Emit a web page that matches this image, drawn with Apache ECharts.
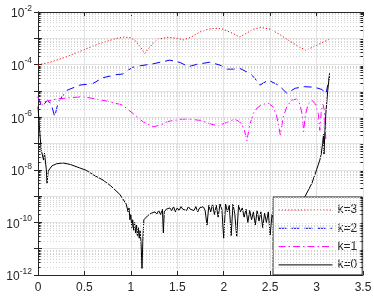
<!DOCTYPE html>
<html><head><meta charset="utf-8">
<script src="https://cdn.jsdelivr.net/npm/echarts@6/dist/echarts.min.js"></script>
<style>html,body{margin:0;padding:0;background:#fff}#c{width:374px;height:299px}</style>
</head><body><div id="c"></div>
<script>
// ---- data (x, log10 of value) ----
const seriesNames = ['k=3', 'k=2', 'k=1', 'k=0'];
const xTickValues = [0, 0.5, 1, 1.5, 2, 2.5, 3, 3.5];
const yExponents = [-12, -10, -8, -6, -4, -2];

const k3 = [[0,-4.01],[0.13,-3.91],[0.31,-3.7],[0.49,-3.44],[0.67,-3.19],[0.85,-3.0],[0.93,-2.95],[1.0,-2.98],
  [1.05,-3.1],[1.1,-3.32],[1.15,-3.57],[1.2,-3.35],[1.25,-3.15],[1.3,-3.03],[1.4,-2.96],[1.5,-3.0],[1.57,-3.06],
  [1.65,-2.95],[1.75,-2.75],[1.85,-2.64],[1.93,-2.62],[2.0,-2.66],[2.1,-2.82],[2.17,-2.95],[2.25,-2.8],[2.32,-2.65],
  [2.4,-2.59],[2.5,-2.65],[2.6,-2.85],[2.7,-3.08],[2.8,-3.3],[2.89,-3.46],[2.95,-3.35],[3.05,-3.18],[3.13,-3.05]];

const k2 = [[0,-5.25],[0.04,-5.58],[0.1,-5.38],[0.14,-5.47],[0.18,-5.98],[0.22,-5.4],[0.31,-4.98],[0.45,-4.78],
  [0.59,-4.72],[0.7,-4.5],[0.84,-4.38],[0.91,-4.36],[1.02,-4.1],[1.13,-4.03],[1.24,-3.97],[1.42,-3.83],[1.53,-3.92],
  [1.62,-4.08],[1.71,-3.99],[1.85,-3.91],[1.96,-4.02],[2.03,-4.17],[2.1,-4.17],[2.17,-4.14],[2.28,-4.33],[2.33,-4.5],
  [2.39,-4.78],[2.48,-4.59],[2.59,-4.78],[2.68,-5.09],[2.77,-4.9],[2.87,-4.84],[2.98,-4.86],[3.06,-4.95],[3.1,-5.12],[3.14,-4.45]];

const k1 = [[0,-5.22],[0.035,-5.56],[0.07,-5.41],[0.2,-5.31],[0.34,-5.26],[0.48,-5.22],[0.63,-5.31],[0.77,-5.41],
  [0.91,-5.54],[1.02,-5.85],[1.13,-6.17],[1.24,-6.36],[1.32,-6.3],[1.39,-6.17],[1.53,-6.08],[1.62,-6.07],[1.75,-6.12],
  [1.85,-6.25],[1.94,-6.33],[2.03,-6.2],[2.12,-6.07],[2.18,-6.2],[2.22,-6.45],[2.25,-6.9],[2.28,-6.3],[2.32,-5.85],
  [2.36,-5.65],[2.41,-5.52],[2.48,-5.47],[2.53,-5.6],[2.57,-5.95],[2.61,-6.68],[2.64,-6.0],[2.68,-5.6],[2.73,-5.35],
  [2.785,-5.31],[2.82,-5.5],[2.845,-5.9],[2.86,-6.55],[2.88,-5.9],[2.91,-5.5],[2.95,-5.36],[2.99,-5.5],[3.02,-5.9],
  [3.035,-6.5],[3.05,-5.8],[3.07,-5.5],[3.085,-5.8],[3.1,-6.85]];

const k0 = [[0,-5.6],[0.02,-6.6],[0.035,-7.25],[0.05,-7.3],[0.06,-7.63],[0.07,-7.37],[0.09,-8.0],[0.097,-8.51],
  [0.11,-8.05],[0.15,-7.85],[0.2,-7.77],[0.27,-7.74],[0.35,-7.8],[0.45,-7.93],[0.52,-8.02],[0.6,-8.2],[0.7,-8.39],
  [0.78,-8.6],[0.88,-8.93],[0.95,-9.3],[0.96,-9.34],[0.97,-9.6],[0.98,-9.45],[0.99,-9.9],[1.0,-9.7],[1.01,-10.2],
  [1.02,-9.9],[1.03,-10.3],[1.04,-10.0],[1.05,-10.4],[1.06,-10.1],[1.07,-10.5],[1.08,-10.2],[1.09,-10.6],[1.1,-10.3],
  [1.11,-10.8],[1.12,-11.75],[1.13,-10.6],[1.14,-9.9],[1.16,-9.85],[1.18,-9.75],[1.2,-9.8],[1.22,-9.65],[1.24,-9.7],
  [1.26,-9.6],[1.28,-9.68],[1.3,-9.55],[1.32,-9.7],[1.34,-9.5],[1.35,-10.4],[1.36,-9.6],[1.38,-9.5],[1.4,-9.55],
  [1.42,-9.45],[1.44,-9.55],[1.46,-9.4],[1.48,-9.6],[1.5,-9.45],[1.52,-9.55],[1.54,-9.4],[1.56,-9.5],[1.58,-9.45],
  [1.6,-9.55],[1.62,-9.4],[1.64,-9.5],[1.66,-9.45],[1.68,-9.55],[1.7,-9.4],[1.72,-9.6],[1.74,-9.45],[1.76,-9.5],
  [1.78,-9.4],[1.8,-9.55],[1.82,-10.1],[1.84,-9.35],[1.86,-9.6],[1.88,-9.3],[1.9,-9.7],[1.92,-9.35],[1.94,-9.8],
  [1.96,-9.3],[1.98,-9.5],[2.0,-10.6],[2.02,-9.3],[2.04,-9.6],[2.06,-9.35],[2.08,-10.5],[2.1,-9.3],[2.12,-9.7],
  [2.14,-10.55],[2.16,-9.35],[2.18,-9.6],[2.2,-9.45],[2.22,-9.8],[2.24,-9.5],[2.26,-10.0],[2.28,-9.55],[2.3,-9.9],
  [2.32,-9.6],[2.34,-10.1],[2.36,-9.55],[2.38,-9.95],[2.4,-9.6],[2.42,-10.2],[2.44,-9.65],[2.46,-10.0],[2.48,-9.6],
  [2.5,-10.48],[2.52,-9.7],[2.54,-9.9],[2.56,-9.7],[2.6,-9.6],[2.7,-9.45],[2.8,-9.25],[2.875,-9.02],[2.95,-8.51],
  [3.0,-8.0],[3.035,-7.63],[3.05,-7.4],[3.065,-7.0],[3.075,-6.65],[3.08,-7.4],[3.09,-6.5],[3.1,-5.85],[3.12,-5.0],[3.14,-4.33]];

const seriesData = [k3, k2, k1, k0];
const seriesColors = ['#ff0000', '#0000ff', '#ff00ff', '#000000'];
const seriesDash = [[1.2, 2], [8, 5], [7, 3, 1.5, 3], 'solid'];

// minor (2..9 x 10^e) grid values for the log axis
const minorVals = [];
for (let e = -12; e < -2; e++) for (let m = 2; m <= 9; m++) minorVals.push(m * Math.pow(10, e));

const toPts = arr => arr.map(p => [p[0], Math.pow(10, p[1])]);

const chart = echarts.init(document.getElementById('c'), null, {renderer: 'canvas'});
const font = 'Liberation Sans, Arial, Helvetica, sans-serif';
const axisCol = '#262626';

const mlData = [];
minorVals.forEach(v => mlData.push([{coord: [0, v]}, {coord: [3.5, v]}]));
const tickData = [];
minorVals.forEach(v => {
  tickData.push([{coord: [0, v]}, {coord: [0.028, v]}]);
  tickData.push([{coord: [3.472, v]}, {coord: [3.5, v]}]);
});

const series = [
  {type: 'line', data: [], silent: true, z: 1, markLine: {silent: true, symbol: ['none','none'], label: {show: false},
    animation: false, lineStyle: {color: '#d2d2d2', type: [1, 2], width: 1}, data: mlData}},
  {type: 'line', data: [], silent: true, z: 5, markLine: {silent: true, symbol: ['none','none'], label: {show: false},
    animation: false, lineStyle: {color: axisCol, type: 'solid', width: 1}, data: tickData}}
];
seriesNames.forEach((n, i) => series.push({
  name: n, type: 'line', data: toPts(seriesData[i]), symbol: 'none', showSymbol: false, z: 3,
  lineStyle: {color: seriesColors[i], width: 1, type: seriesDash[i]}, itemStyle: {color: seriesColors[i]}
}));

const xBase = {type: 'value', min: 0, max: 3.5, interval: 0.5,
  axisLine: {show: true, lineStyle: {color: axisCol, width: 1}},
  axisTick: {show: true, inside: true, length: 4, lineStyle: {color: axisCol}}};
const yBase = {type: 'log', logBase: 10, min: 1e-12, max: 1e-2, interval: 1,
  axisLine: {show: true, lineStyle: {color: axisCol, width: 1}},
  axisTick: {show: true, inside: true, length: 4, lineStyle: {color: axisCol}}};

chart.setOption({
  animation: false,
  backgroundColor: '#fff',
  grid: {left: 38, right: 11, top: 12, bottom: 24, containLabel: false, outerBoundsMode: 'none'},
  xAxis: [
    Object.assign({}, xBase, {position: 'bottom',
      axisLabel: {show: true, color: axisCol, fontSize: 12, fontFamily: font, margin: 7,
        formatter: v => xTickValues.indexOf(v) >= 0 ? String(v) : ''},
      splitLine: {show: true, lineStyle: {color: '#e3e3e3', width: 1}}}),
    Object.assign({}, xBase, {position: 'top', axisLabel: {show: false}, splitLine: {show: false}})
  ],
  yAxis: [
    Object.assign({}, yBase, {position: 'left',
      axisLabel: {show: true, margin: 6, fontFamily: font, color: axisCol,
        formatter: v => {
          const e = Math.round(Math.log10(v));
          return yExponents.indexOf(e) >= 0 ? '{b|10}{s|' + e + '}' : '';
        },
        rich: {b: {fontSize: 12, fontFamily: font, color: axisCol, lineHeight: 16, verticalAlign: 'bottom'},
               s: {fontSize: 8.5, fontFamily: font, color: axisCol, lineHeight: 9, verticalAlign: 'top'}}},
      splitLine: {show: true, lineStyle: {color: '#e3e3e3', width: 1}}}),
    Object.assign({}, yBase, {position: 'right', axisLabel: {show: false}, splitLine: {show: false}})
  ],
  legend: {
    data: seriesNames, orient: 'vertical', left: 273, top: 197,
    padding: [7, 5, 4, 5], itemWidth: 54, itemHeight: 12, itemGap: 6.3,
    backgroundColor: '#fff', borderColor: axisCol, borderWidth: 1, borderRadius: 0,
    selectedMode: false,
    itemStyle: {opacity: 0, color: 'transparent', borderWidth: 0},
    lineStyle: {width: 1},
    textStyle: {fontSize: 12, fontFamily: font, color: axisCol, lineHeight: 12}
  },
  series: series
});
</script>
</body></html>
